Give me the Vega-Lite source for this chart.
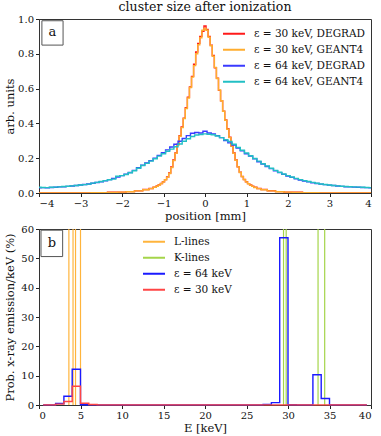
{
 "$schema": "https://vega.github.io/schema/vega-lite/v6.json",
 "padding": {"left": 3, "top": 0, "right": 6, "bottom": 0},
 "spacing": 0,
 "config": {
  "font": "DejaVu Serif",
  "view": {"stroke": "#333", "strokeWidth": 1},
  "axis": {"labelFont": "DejaVu Serif", "labelFontSize": 10, "labelColor": "#111", "titleFont": "DejaVu Serif", "titleFontSize": 11.5, "titleFontWeight": "normal", "titleColor": "#111", "grid": false, "tickColor": "#222", "domainColor": "#333", "tickSize": 3.5, "labelPadding": 2, "titlePadding": 2, "labelOverlap": false},
  "axisY": {"minExtent": 22, "maxExtent": 22},
  "legend": {"labelFont": "DejaVu Serif", "labelFontSize": 10.5, "labelColor": "#111", "symbolType": "stroke", "symbolSize": 484, "symbolStrokeWidth": 2, "rowPadding": 4, "clipHeight": 11.7, "labelOffset": 8, "padding": 0},
  "title": {"font": "DejaVu Serif", "fontSize": 12.5, "fontWeight": "normal", "offset": 1, "color": "#111"}
 },
 "resolve": {"scale": {"color": "independent"}, "legend": {"color": "independent"}},
 "vconcat": [
  {
   "title": "cluster size after ionization",
   "width": 332, "height": 174,
   "encoding": {
    "x": {"type": "quantitative", "scale": {"domain": [-4, 4], "nice": false}, "axis": {"title": "position [mm]", "values": [-4, -3, -2, -1, 0, 1, 2, 3, 4], "format": "d", "labelOverlap": false}},
    "y": {"type": "quantitative", "scale": {"domain": [0, 1], "nice": false}, "axis": {"title": "arb. units", "values": [0, 0.2, 0.4, 0.6, 0.8, 1.0], "format": ".1f", "labelOverlap": false}}
   },
   "layer": [
    {
     "data": {"values": [
      {"pos":-4.0,"v":0.000,"series":"ε = 30 keV, DEGRAD"},{"pos":-3.5,"v":0.001,"series":"ε = 30 keV, DEGRAD"},{"pos":-3.0,"v":0.001,"series":"ε = 30 keV, DEGRAD"},{"pos":-2.5,"v":0.002,"series":"ε = 30 keV, DEGRAD"},{"pos":-2.2,"v":0.004,"series":"ε = 30 keV, DEGRAD"},{"pos":-2.0,"v":0.005,"series":"ε = 30 keV, DEGRAD"},{"pos":-1.8,"v":0.008,"series":"ε = 30 keV, DEGRAD"},{"pos":-1.6,"v":0.012,"series":"ε = 30 keV, DEGRAD"},{"pos":-1.4,"v":0.020,"series":"ε = 30 keV, DEGRAD"},{"pos":-1.3,"v":0.026,"series":"ε = 30 keV, DEGRAD"},{"pos":-1.2,"v":0.034,"series":"ε = 30 keV, DEGRAD"},{"pos":-1.15,"v":0.040,"series":"ε = 30 keV, DEGRAD"},{"pos":-1.1,"v":0.047,"series":"ε = 30 keV, DEGRAD"},{"pos":-1.05,"v":0.055,"series":"ε = 30 keV, DEGRAD"},{"pos":-1.0,"v":0.065,"series":"ε = 30 keV, DEGRAD"},{"pos":-0.95,"v":0.077,"series":"ε = 30 keV, DEGRAD"},{"pos":-0.9,"v":0.092,"series":"ε = 30 keV, DEGRAD"},{"pos":-0.85,"v":0.115,"series":"ε = 30 keV, DEGRAD"},{"pos":-0.8,"v":0.150,"series":"ε = 30 keV, DEGRAD"},{"pos":-0.75,"v":0.190,"series":"ε = 30 keV, DEGRAD"},{"pos":-0.7,"v":0.230,"series":"ε = 30 keV, DEGRAD"},{"pos":-0.65,"v":0.280,"series":"ε = 30 keV, DEGRAD"},{"pos":-0.6,"v":0.330,"series":"ε = 30 keV, DEGRAD"},{"pos":-0.55,"v":0.380,"series":"ε = 30 keV, DEGRAD"},{"pos":-0.5,"v":0.430,"series":"ε = 30 keV, DEGRAD"},{"pos":-0.45,"v":0.490,"series":"ε = 30 keV, DEGRAD"},{"pos":-0.4,"v":0.550,"series":"ε = 30 keV, DEGRAD"},{"pos":-0.35,"v":0.610,"series":"ε = 30 keV, DEGRAD"},{"pos":-0.3,"v":0.670,"series":"ε = 30 keV, DEGRAD"},{"pos":-0.25,"v":0.740,"series":"ε = 30 keV, DEGRAD"},{"pos":-0.2,"v":0.810,"series":"ε = 30 keV, DEGRAD"},{"pos":-0.15,"v":0.860,"series":"ε = 30 keV, DEGRAD"},{"pos":-0.1,"v":0.900,"series":"ε = 30 keV, DEGRAD"},{"pos":-0.05,"v":0.930,"series":"ε = 30 keV, DEGRAD"},{"pos":0.0,"v":0.960,"series":"ε = 30 keV, DEGRAD"},{"pos":0.05,"v":0.940,"series":"ε = 30 keV, DEGRAD"},{"pos":0.1,"v":0.900,"series":"ε = 30 keV, DEGRAD"},{"pos":0.15,"v":0.850,"series":"ε = 30 keV, DEGRAD"},{"pos":0.2,"v":0.790,"series":"ε = 30 keV, DEGRAD"},{"pos":0.25,"v":0.720,"series":"ε = 30 keV, DEGRAD"},{"pos":0.3,"v":0.660,"series":"ε = 30 keV, DEGRAD"},{"pos":0.35,"v":0.590,"series":"ε = 30 keV, DEGRAD"},{"pos":0.4,"v":0.530,"series":"ε = 30 keV, DEGRAD"},{"pos":0.45,"v":0.470,"series":"ε = 30 keV, DEGRAD"},{"pos":0.5,"v":0.420,"series":"ε = 30 keV, DEGRAD"},{"pos":0.55,"v":0.370,"series":"ε = 30 keV, DEGRAD"},{"pos":0.6,"v":0.320,"series":"ε = 30 keV, DEGRAD"},{"pos":0.65,"v":0.270,"series":"ε = 30 keV, DEGRAD"},{"pos":0.7,"v":0.230,"series":"ε = 30 keV, DEGRAD"},{"pos":0.75,"v":0.190,"series":"ε = 30 keV, DEGRAD"},{"pos":0.8,"v":0.150,"series":"ε = 30 keV, DEGRAD"},{"pos":0.85,"v":0.120,"series":"ε = 30 keV, DEGRAD"},{"pos":0.9,"v":0.095,"series":"ε = 30 keV, DEGRAD"},{"pos":0.95,"v":0.078,"series":"ε = 30 keV, DEGRAD"},{"pos":1.0,"v":0.065,"series":"ε = 30 keV, DEGRAD"},{"pos":1.05,"v":0.054,"series":"ε = 30 keV, DEGRAD"},{"pos":1.1,"v":0.046,"series":"ε = 30 keV, DEGRAD"},{"pos":1.15,"v":0.039,"series":"ε = 30 keV, DEGRAD"},{"pos":1.2,"v":0.033,"series":"ε = 30 keV, DEGRAD"},{"pos":1.3,"v":0.026,"series":"ε = 30 keV, DEGRAD"},{"pos":1.4,"v":0.020,"series":"ε = 30 keV, DEGRAD"},{"pos":1.6,"v":0.013,"series":"ε = 30 keV, DEGRAD"},{"pos":1.8,"v":0.008,"series":"ε = 30 keV, DEGRAD"},{"pos":2.0,"v":0.005,"series":"ε = 30 keV, DEGRAD"},{"pos":2.2,"v":0.004,"series":"ε = 30 keV, DEGRAD"},{"pos":2.5,"v":0.002,"series":"ε = 30 keV, DEGRAD"},{"pos":3.0,"v":0.001,"series":"ε = 30 keV, DEGRAD"},{"pos":3.5,"v":0.001,"series":"ε = 30 keV, DEGRAD"},{"pos":4.0,"v":0.000,"series":"ε = 30 keV, DEGRAD"},

      {"pos":-4.0,"v":0.000,"series":"ε = 30 keV, GEANT4"},{"pos":-3.5,"v":0.001,"series":"ε = 30 keV, GEANT4"},{"pos":-3.0,"v":0.001,"series":"ε = 30 keV, GEANT4"},{"pos":-2.5,"v":0.002,"series":"ε = 30 keV, GEANT4"},{"pos":-2.2,"v":0.003,"series":"ε = 30 keV, GEANT4"},{"pos":-2.0,"v":0.005,"series":"ε = 30 keV, GEANT4"},{"pos":-1.8,"v":0.007,"series":"ε = 30 keV, GEANT4"},{"pos":-1.6,"v":0.012,"series":"ε = 30 keV, GEANT4"},{"pos":-1.4,"v":0.019,"series":"ε = 30 keV, GEANT4"},{"pos":-1.3,"v":0.025,"series":"ε = 30 keV, GEANT4"},{"pos":-1.2,"v":0.033,"series":"ε = 30 keV, GEANT4"},{"pos":-1.15,"v":0.039,"series":"ε = 30 keV, GEANT4"},{"pos":-1.1,"v":0.046,"series":"ε = 30 keV, GEANT4"},{"pos":-1.05,"v":0.054,"series":"ε = 30 keV, GEANT4"},{"pos":-1.0,"v":0.064,"series":"ε = 30 keV, GEANT4"},{"pos":-0.95,"v":0.076,"series":"ε = 30 keV, GEANT4"},{"pos":-0.9,"v":0.090,"series":"ε = 30 keV, GEANT4"},{"pos":-0.85,"v":0.112,"series":"ε = 30 keV, GEANT4"},{"pos":-0.8,"v":0.146,"series":"ε = 30 keV, GEANT4"},{"pos":-0.75,"v":0.186,"series":"ε = 30 keV, GEANT4"},{"pos":-0.7,"v":0.228,"series":"ε = 30 keV, GEANT4"},{"pos":-0.65,"v":0.275,"series":"ε = 30 keV, GEANT4"},{"pos":-0.6,"v":0.326,"series":"ε = 30 keV, GEANT4"},{"pos":-0.55,"v":0.376,"series":"ε = 30 keV, GEANT4"},{"pos":-0.5,"v":0.428,"series":"ε = 30 keV, GEANT4"},{"pos":-0.45,"v":0.486,"series":"ε = 30 keV, GEANT4"},{"pos":-0.4,"v":0.546,"series":"ε = 30 keV, GEANT4"},{"pos":-0.35,"v":0.606,"series":"ε = 30 keV, GEANT4"},{"pos":-0.3,"v":0.666,"series":"ε = 30 keV, GEANT4"},{"pos":-0.25,"v":0.732,"series":"ε = 30 keV, GEANT4"},{"pos":-0.2,"v":0.800,"series":"ε = 30 keV, GEANT4"},{"pos":-0.15,"v":0.852,"series":"ε = 30 keV, GEANT4"},{"pos":-0.1,"v":0.892,"series":"ε = 30 keV, GEANT4"},{"pos":-0.05,"v":0.935,"series":"ε = 30 keV, GEANT4"},{"pos":0.0,"v":0.945,"series":"ε = 30 keV, GEANT4"},{"pos":0.05,"v":0.935,"series":"ε = 30 keV, GEANT4"},{"pos":0.1,"v":0.895,"series":"ε = 30 keV, GEANT4"},{"pos":0.15,"v":0.846,"series":"ε = 30 keV, GEANT4"},{"pos":0.2,"v":0.786,"series":"ε = 30 keV, GEANT4"},{"pos":0.25,"v":0.722,"series":"ε = 30 keV, GEANT4"},{"pos":0.3,"v":0.658,"series":"ε = 30 keV, GEANT4"},{"pos":0.35,"v":0.592,"series":"ε = 30 keV, GEANT4"},{"pos":0.4,"v":0.530,"series":"ε = 30 keV, GEANT4"},{"pos":0.45,"v":0.470,"series":"ε = 30 keV, GEANT4"},{"pos":0.5,"v":0.418,"series":"ε = 30 keV, GEANT4"},{"pos":0.55,"v":0.366,"series":"ε = 30 keV, GEANT4"},{"pos":0.6,"v":0.318,"series":"ε = 30 keV, GEANT4"},{"pos":0.65,"v":0.270,"series":"ε = 30 keV, GEANT4"},{"pos":0.7,"v":0.228,"series":"ε = 30 keV, GEANT4"},{"pos":0.75,"v":0.188,"series":"ε = 30 keV, GEANT4"},{"pos":0.8,"v":0.150,"series":"ε = 30 keV, GEANT4"},{"pos":0.85,"v":0.118,"series":"ε = 30 keV, GEANT4"},{"pos":0.9,"v":0.094,"series":"ε = 30 keV, GEANT4"},{"pos":0.95,"v":0.077,"series":"ε = 30 keV, GEANT4"},{"pos":1.0,"v":0.064,"series":"ε = 30 keV, GEANT4"},{"pos":1.05,"v":0.053,"series":"ε = 30 keV, GEANT4"},{"pos":1.1,"v":0.045,"series":"ε = 30 keV, GEANT4"},{"pos":1.15,"v":0.038,"series":"ε = 30 keV, GEANT4"},{"pos":1.2,"v":0.032,"series":"ε = 30 keV, GEANT4"},{"pos":1.3,"v":0.025,"series":"ε = 30 keV, GEANT4"},{"pos":1.4,"v":0.019,"series":"ε = 30 keV, GEANT4"},{"pos":1.6,"v":0.012,"series":"ε = 30 keV, GEANT4"},{"pos":1.8,"v":0.007,"series":"ε = 30 keV, GEANT4"},{"pos":2.0,"v":0.005,"series":"ε = 30 keV, GEANT4"},{"pos":2.2,"v":0.003,"series":"ε = 30 keV, GEANT4"},{"pos":2.5,"v":0.002,"series":"ε = 30 keV, GEANT4"},{"pos":3.0,"v":0.001,"series":"ε = 30 keV, GEANT4"},{"pos":3.5,"v":0.001,"series":"ε = 30 keV, GEANT4"},{"pos":4.0,"v":0.000,"series":"ε = 30 keV, GEANT4"},

      {"pos":-4.0,"v":0.030,"series":"ε = 64 keV, DEGRAD"},{"pos":-3.9,"v":0.031,"series":"ε = 64 keV, DEGRAD"},{"pos":-3.8,"v":0.030,"series":"ε = 64 keV, DEGRAD"},{"pos":-3.7,"v":0.032,"series":"ε = 64 keV, DEGRAD"},{"pos":-3.6,"v":0.033,"series":"ε = 64 keV, DEGRAD"},{"pos":-3.5,"v":0.035,"series":"ε = 64 keV, DEGRAD"},{"pos":-3.4,"v":0.036,"series":"ε = 64 keV, DEGRAD"},{"pos":-3.3,"v":0.038,"series":"ε = 64 keV, DEGRAD"},{"pos":-3.2,"v":0.040,"series":"ε = 64 keV, DEGRAD"},{"pos":-3.1,"v":0.043,"series":"ε = 64 keV, DEGRAD"},{"pos":-3.0,"v":0.046,"series":"ε = 64 keV, DEGRAD"},{"pos":-2.9,"v":0.049,"series":"ε = 64 keV, DEGRAD"},{"pos":-2.8,"v":0.052,"series":"ε = 64 keV, DEGRAD"},{"pos":-2.7,"v":0.056,"series":"ε = 64 keV, DEGRAD"},{"pos":-2.6,"v":0.060,"series":"ε = 64 keV, DEGRAD"},{"pos":-2.5,"v":0.065,"series":"ε = 64 keV, DEGRAD"},{"pos":-2.4,"v":0.070,"series":"ε = 64 keV, DEGRAD"},{"pos":-2.3,"v":0.077,"series":"ε = 64 keV, DEGRAD"},{"pos":-2.2,"v":0.084,"series":"ε = 64 keV, DEGRAD"},{"pos":-2.1,"v":0.092,"series":"ε = 64 keV, DEGRAD"},{"pos":-2.0,"v":0.100,"series":"ε = 64 keV, DEGRAD"},{"pos":-1.9,"v":0.108,"series":"ε = 64 keV, DEGRAD"},{"pos":-1.8,"v":0.118,"series":"ε = 64 keV, DEGRAD"},{"pos":-1.7,"v":0.130,"series":"ε = 64 keV, DEGRAD"},{"pos":-1.6,"v":0.145,"series":"ε = 64 keV, DEGRAD"},{"pos":-1.5,"v":0.160,"series":"ε = 64 keV, DEGRAD"},{"pos":-1.4,"v":0.172,"series":"ε = 64 keV, DEGRAD"},{"pos":-1.3,"v":0.186,"series":"ε = 64 keV, DEGRAD"},{"pos":-1.2,"v":0.200,"series":"ε = 64 keV, DEGRAD"},{"pos":-1.1,"v":0.216,"series":"ε = 64 keV, DEGRAD"},{"pos":-1.0,"v":0.232,"series":"ε = 64 keV, DEGRAD"},{"pos":-0.9,"v":0.248,"series":"ε = 64 keV, DEGRAD"},{"pos":-0.8,"v":0.264,"series":"ε = 64 keV, DEGRAD"},{"pos":-0.7,"v":0.280,"series":"ε = 64 keV, DEGRAD"},{"pos":-0.6,"v":0.297,"series":"ε = 64 keV, DEGRAD"},{"pos":-0.5,"v":0.313,"series":"ε = 64 keV, DEGRAD"},{"pos":-0.4,"v":0.330,"series":"ε = 64 keV, DEGRAD"},{"pos":-0.3,"v":0.343,"series":"ε = 64 keV, DEGRAD"},{"pos":-0.2,"v":0.348,"series":"ε = 64 keV, DEGRAD"},{"pos":-0.1,"v":0.345,"series":"ε = 64 keV, DEGRAD"},{"pos":0.0,"v":0.355,"series":"ε = 64 keV, DEGRAD"},{"pos":0.1,"v":0.345,"series":"ε = 64 keV, DEGRAD"},{"pos":0.2,"v":0.340,"series":"ε = 64 keV, DEGRAD"},{"pos":0.3,"v":0.330,"series":"ε = 64 keV, DEGRAD"},{"pos":0.4,"v":0.318,"series":"ε = 64 keV, DEGRAD"},{"pos":0.5,"v":0.302,"series":"ε = 64 keV, DEGRAD"},{"pos":0.6,"v":0.288,"series":"ε = 64 keV, DEGRAD"},{"pos":0.7,"v":0.275,"series":"ε = 64 keV, DEGRAD"},{"pos":0.8,"v":0.258,"series":"ε = 64 keV, DEGRAD"},{"pos":0.9,"v":0.242,"series":"ε = 64 keV, DEGRAD"},{"pos":1.0,"v":0.226,"series":"ε = 64 keV, DEGRAD"},{"pos":1.1,"v":0.212,"series":"ε = 64 keV, DEGRAD"},{"pos":1.2,"v":0.196,"series":"ε = 64 keV, DEGRAD"},{"pos":1.3,"v":0.180,"series":"ε = 64 keV, DEGRAD"},{"pos":1.4,"v":0.166,"series":"ε = 64 keV, DEGRAD"},{"pos":1.5,"v":0.152,"series":"ε = 64 keV, DEGRAD"},{"pos":1.6,"v":0.140,"series":"ε = 64 keV, DEGRAD"},{"pos":1.7,"v":0.128,"series":"ε = 64 keV, DEGRAD"},{"pos":1.8,"v":0.117,"series":"ε = 64 keV, DEGRAD"},{"pos":1.9,"v":0.107,"series":"ε = 64 keV, DEGRAD"},{"pos":2.0,"v":0.098,"series":"ε = 64 keV, DEGRAD"},{"pos":2.1,"v":0.090,"series":"ε = 64 keV, DEGRAD"},{"pos":2.2,"v":0.082,"series":"ε = 64 keV, DEGRAD"},{"pos":2.3,"v":0.075,"series":"ε = 64 keV, DEGRAD"},{"pos":2.4,"v":0.069,"series":"ε = 64 keV, DEGRAD"},{"pos":2.5,"v":0.064,"series":"ε = 64 keV, DEGRAD"},{"pos":2.6,"v":0.059,"series":"ε = 64 keV, DEGRAD"},{"pos":2.7,"v":0.055,"series":"ε = 64 keV, DEGRAD"},{"pos":2.8,"v":0.051,"series":"ε = 64 keV, DEGRAD"},{"pos":2.9,"v":0.048,"series":"ε = 64 keV, DEGRAD"},{"pos":3.0,"v":0.045,"series":"ε = 64 keV, DEGRAD"},{"pos":3.1,"v":0.043,"series":"ε = 64 keV, DEGRAD"},{"pos":3.2,"v":0.040,"series":"ε = 64 keV, DEGRAD"},{"pos":3.3,"v":0.038,"series":"ε = 64 keV, DEGRAD"},{"pos":3.4,"v":0.036,"series":"ε = 64 keV, DEGRAD"},{"pos":3.5,"v":0.035,"series":"ε = 64 keV, DEGRAD"},{"pos":3.6,"v":0.034,"series":"ε = 64 keV, DEGRAD"},{"pos":3.7,"v":0.033,"series":"ε = 64 keV, DEGRAD"},{"pos":3.8,"v":0.032,"series":"ε = 64 keV, DEGRAD"},{"pos":3.9,"v":0.031,"series":"ε = 64 keV, DEGRAD"},{"pos":4.0,"v":0.030,"series":"ε = 64 keV, DEGRAD"},

      {"pos":-4.0,"v":0.033,"series":"ε = 64 keV, GEANT4"},{"pos":-3.9,"v":0.032,"series":"ε = 64 keV, GEANT4"},{"pos":-3.8,"v":0.031,"series":"ε = 64 keV, GEANT4"},{"pos":-3.7,"v":0.033,"series":"ε = 64 keV, GEANT4"},{"pos":-3.6,"v":0.034,"series":"ε = 64 keV, GEANT4"},{"pos":-3.5,"v":0.035,"series":"ε = 64 keV, GEANT4"},{"pos":-3.4,"v":0.037,"series":"ε = 64 keV, GEANT4"},{"pos":-3.3,"v":0.039,"series":"ε = 64 keV, GEANT4"},{"pos":-3.2,"v":0.041,"series":"ε = 64 keV, GEANT4"},{"pos":-3.1,"v":0.043,"series":"ε = 64 keV, GEANT4"},{"pos":-3.0,"v":0.046,"series":"ε = 64 keV, GEANT4"},{"pos":-2.9,"v":0.048,"series":"ε = 64 keV, GEANT4"},{"pos":-2.8,"v":0.051,"series":"ε = 64 keV, GEANT4"},{"pos":-2.7,"v":0.057,"series":"ε = 64 keV, GEANT4"},{"pos":-2.6,"v":0.061,"series":"ε = 64 keV, GEANT4"},{"pos":-2.5,"v":0.066,"series":"ε = 64 keV, GEANT4"},{"pos":-2.4,"v":0.071,"series":"ε = 64 keV, GEANT4"},{"pos":-2.3,"v":0.076,"series":"ε = 64 keV, GEANT4"},{"pos":-2.2,"v":0.080,"series":"ε = 64 keV, GEANT4"},{"pos":-2.1,"v":0.096,"series":"ε = 64 keV, GEANT4"},{"pos":-2.0,"v":0.100,"series":"ε = 64 keV, GEANT4"},{"pos":-1.9,"v":0.106,"series":"ε = 64 keV, GEANT4"},{"pos":-1.8,"v":0.116,"series":"ε = 64 keV, GEANT4"},{"pos":-1.7,"v":0.128,"series":"ε = 64 keV, GEANT4"},{"pos":-1.6,"v":0.142,"series":"ε = 64 keV, GEANT4"},{"pos":-1.5,"v":0.158,"series":"ε = 64 keV, GEANT4"},{"pos":-1.4,"v":0.170,"series":"ε = 64 keV, GEANT4"},{"pos":-1.3,"v":0.183,"series":"ε = 64 keV, GEANT4"},{"pos":-1.2,"v":0.197,"series":"ε = 64 keV, GEANT4"},{"pos":-1.1,"v":0.212,"series":"ε = 64 keV, GEANT4"},{"pos":-1.0,"v":0.226,"series":"ε = 64 keV, GEANT4"},{"pos":-0.9,"v":0.240,"series":"ε = 64 keV, GEANT4"},{"pos":-0.8,"v":0.252,"series":"ε = 64 keV, GEANT4"},{"pos":-0.7,"v":0.266,"series":"ε = 64 keV, GEANT4"},{"pos":-0.6,"v":0.282,"series":"ε = 64 keV, GEANT4"},{"pos":-0.5,"v":0.297,"series":"ε = 64 keV, GEANT4"},{"pos":-0.4,"v":0.312,"series":"ε = 64 keV, GEANT4"},{"pos":-0.3,"v":0.325,"series":"ε = 64 keV, GEANT4"},{"pos":-0.2,"v":0.333,"series":"ε = 64 keV, GEANT4"},{"pos":-0.1,"v":0.336,"series":"ε = 64 keV, GEANT4"},{"pos":0.0,"v":0.340,"series":"ε = 64 keV, GEANT4"},{"pos":0.1,"v":0.338,"series":"ε = 64 keV, GEANT4"},{"pos":0.2,"v":0.335,"series":"ε = 64 keV, GEANT4"},{"pos":0.3,"v":0.328,"series":"ε = 64 keV, GEANT4"},{"pos":0.4,"v":0.318,"series":"ε = 64 keV, GEANT4"},{"pos":0.5,"v":0.306,"series":"ε = 64 keV, GEANT4"},{"pos":0.6,"v":0.296,"series":"ε = 64 keV, GEANT4"},{"pos":0.7,"v":0.280,"series":"ε = 64 keV, GEANT4"},{"pos":0.8,"v":0.262,"series":"ε = 64 keV, GEANT4"},{"pos":0.9,"v":0.246,"series":"ε = 64 keV, GEANT4"},{"pos":1.0,"v":0.230,"series":"ε = 64 keV, GEANT4"},{"pos":1.1,"v":0.214,"series":"ε = 64 keV, GEANT4"},{"pos":1.2,"v":0.198,"series":"ε = 64 keV, GEANT4"},{"pos":1.3,"v":0.183,"series":"ε = 64 keV, GEANT4"},{"pos":1.4,"v":0.168,"series":"ε = 64 keV, GEANT4"},{"pos":1.5,"v":0.155,"series":"ε = 64 keV, GEANT4"},{"pos":1.6,"v":0.142,"series":"ε = 64 keV, GEANT4"},{"pos":1.7,"v":0.130,"series":"ε = 64 keV, GEANT4"},{"pos":1.8,"v":0.119,"series":"ε = 64 keV, GEANT4"},{"pos":1.9,"v":0.109,"series":"ε = 64 keV, GEANT4"},{"pos":2.0,"v":0.100,"series":"ε = 64 keV, GEANT4"},{"pos":2.1,"v":0.092,"series":"ε = 64 keV, GEANT4"},{"pos":2.2,"v":0.084,"series":"ε = 64 keV, GEANT4"},{"pos":2.3,"v":0.077,"series":"ε = 64 keV, GEANT4"},{"pos":2.4,"v":0.071,"series":"ε = 64 keV, GEANT4"},{"pos":2.5,"v":0.066,"series":"ε = 64 keV, GEANT4"},{"pos":2.6,"v":0.061,"series":"ε = 64 keV, GEANT4"},{"pos":2.7,"v":0.056,"series":"ε = 64 keV, GEANT4"},{"pos":2.8,"v":0.052,"series":"ε = 64 keV, GEANT4"},{"pos":2.9,"v":0.049,"series":"ε = 64 keV, GEANT4"},{"pos":3.0,"v":0.046,"series":"ε = 64 keV, GEANT4"},{"pos":3.1,"v":0.043,"series":"ε = 64 keV, GEANT4"},{"pos":3.2,"v":0.041,"series":"ε = 64 keV, GEANT4"},{"pos":3.3,"v":0.039,"series":"ε = 64 keV, GEANT4"},{"pos":3.4,"v":0.037,"series":"ε = 64 keV, GEANT4"},{"pos":3.5,"v":0.036,"series":"ε = 64 keV, GEANT4"},{"pos":3.6,"v":0.035,"series":"ε = 64 keV, GEANT4"},{"pos":3.7,"v":0.034,"series":"ε = 64 keV, GEANT4"},{"pos":3.8,"v":0.033,"series":"ε = 64 keV, GEANT4"},{"pos":3.9,"v":0.032,"series":"ε = 64 keV, GEANT4"},{"pos":4.0,"v":0.031,"series":"ε = 64 keV, GEANT4"}
     ]},
     "mark": {"type": "line", "interpolate": "step", "strokeWidth": 1.4, "clip": true},
     "encoding": {
      "x": {"field": "pos"},
      "y": {"field": "v"},
      "color": {"field": "series", "type": "nominal", "scale": {"domain": ["ε = 30 keV, DEGRAD", "ε = 30 keV, GEANT4", "ε = 64 keV, DEGRAD", "ε = 64 keV, GEANT4"], "range": ["#ff1a1a", "#ffad2e", "#3a3aff", "#22bfc4"]}, "legend": {"title": null, "orient": "none", "legendX": 183, "legendY": 9}}
     }
    },
    {
     "data": {"values": [{}]},
     "mark": {"type": "rect", "fill": "white", "stroke": "#555", "strokeWidth": 1},
     "encoding": {"x": {"datum": -3.93}, "x2": {"datum": -3.42}, "y": {"datum": 0.99}, "y2": {"datum": 0.85}}
    },
    {
     "data": {"values": [{}]},
     "mark": {"type": "text", "text": "a", "fontSize": 13, "font": "DejaVu Serif", "color": "#111", "baseline": "middle"},
     "encoding": {"x": {"datum": -3.675}, "y": {"datum": 0.925}}
    }
   ]
  },
  {
   "width": 332, "height": 176,
   "encoding": {
    "x": {"type": "quantitative", "scale": {"domain": [0, 40], "nice": false}, "axis": {"title": "E [keV]", "values": [0, 5, 10, 15, 20, 25, 30, 35, 40], "format": "d", "labelOverlap": false}},
    "y": {"type": "quantitative", "scale": {"domain": [0, 60], "nice": false}, "axis": {"title": "Prob. x-ray emission/keV (%)", "values": [0, 10, 20, 30, 40, 50, 60], "format": "d", "labelOverlap": false}}
   },
   "layer": [
    {
     "data": {"values": [
      {"E": 3.6, "kind": "L-lines"}, {"E": 4.1, "kind": "L-lines"}, {"E": 4.4, "kind": "L-lines"}, {"E": 5.0, "kind": "L-lines"},
      {"E": 29.46, "kind": "K-lines"}, {"E": 29.78, "kind": "K-lines"}, {"E": 33.62, "kind": "K-lines"}, {"E": 34.42, "kind": "K-lines"}
     ]},
     "mark": {"type": "rule", "strokeWidth": 1.2},
     "encoding": {
      "x": {"field": "E"},
      "y": null,
      "color": {"field": "kind", "type": "nominal"}
     }
    },
    {
     "data": {"values": [
      {"E": 0.5, "p": 0.05, "kind": "ε = 64 keV"}, {"E": 2, "p": 0.5, "kind": "ε = 64 keV"}, {"E": 3, "p": 3.0, "kind": "ε = 64 keV"}, {"E": 4, "p": 12.2, "kind": "ε = 64 keV"}, {"E": 5, "p": 0.1, "kind": "ε = 64 keV"}, {"E": 6, "p": 0.05, "kind": "ε = 64 keV"}, {"E": 27, "p": 0.2, "kind": "ε = 64 keV"}, {"E": 28, "p": 0.8, "kind": "ε = 64 keV"}, {"E": 29, "p": 57.0, "kind": "ε = 64 keV"}, {"E": 30, "p": 0.1, "kind": "ε = 64 keV"}, {"E": 31, "p": 0.05, "kind": "ε = 64 keV"}, {"E": 33, "p": 10.3, "kind": "ε = 64 keV"}, {"E": 34, "p": 2.2, "kind": "ε = 64 keV"}, {"E": 35, "p": 0.05, "kind": "ε = 64 keV"}, {"E": 39.5, "p": 0.05, "kind": "ε = 64 keV"},
      {"E": 0.5, "p": 0.05, "kind": "ε = 30 keV"}, {"E": 2, "p": 0.3, "kind": "ε = 30 keV"}, {"E": 3, "p": 1.2, "kind": "ε = 30 keV"}, {"E": 4, "p": 6.4, "kind": "ε = 30 keV"}, {"E": 5, "p": 0.6, "kind": "ε = 30 keV"}, {"E": 6, "p": 0.15, "kind": "ε = 30 keV"}, {"E": 7, "p": 0.05, "kind": "ε = 30 keV"}, {"E": 39.5, "p": 0.05, "kind": "ε = 30 keV"}
     ]},
     "mark": {"type": "line", "interpolate": "step-after", "strokeWidth": 1.4},
     "encoding": {
      "x": {"field": "E"},
      "y": {"field": "p"},
      "color": {"field": "kind", "type": "nominal", "scale": {"domain": ["L-lines", "K-lines", "ε = 64 keV", "ε = 30 keV"], "range": ["#ffb43c", "#a5d54a", "#1a1aff", "#ff4545"]}, "legend": {"title": null, "orient": "none", "legendX": 103, "legendY": 7}}
     }
    },
    {
     "data": {"values": [{}]},
     "mark": {"type": "rect", "fill": "white", "stroke": "#555", "strokeWidth": 1},
     "encoding": {"x": {"datum": 0.24}, "x2": {"datum": 2.85}, "y": {"datum": 59.6}, "y2": {"datum": 50.6}}
    },
    {
     "data": {"values": [{}]},
     "mark": {"type": "text", "text": "b", "fontSize": 13, "font": "DejaVu Serif", "color": "#111", "baseline": "middle"},
     "encoding": {"x": {"datum": 1.55}, "y": {"datum": 55.1}}
    }
   ]
  }
 ]
}
